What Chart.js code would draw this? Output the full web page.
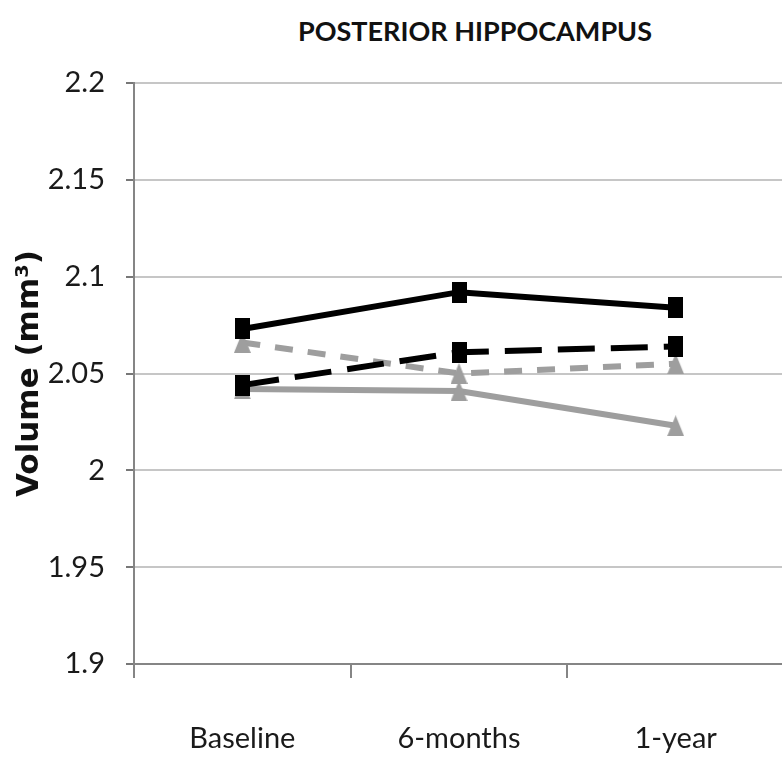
<!DOCTYPE html>
<html>
<head>
<meta charset="utf-8">
<script src="https://cdn.jsdelivr.net/npm/chart.js@4.4.1/dist/chart.umd.min.js"></script>
<style>
  html, body { margin: 0; padding: 0; background: #ffffff; overflow: hidden; width: 782px; height: 759px; }
  #wrap { position: relative; width: 782px; height: 759px; overflow: hidden; }
  #title { position: absolute; left: 0; width: 950px; top: 14px; text-align: center;
           font-family: Lato, 'Liberation Sans', sans-serif; font-weight: bold;
           font-size: 27px; color: #111; white-space: nowrap; }
  canvas { position: absolute; left: 0; top: 0; }
</style>
</head>
<body>
<div id="wrap">
  <div id="title">POSTERIOR HIPPOCAMPUS</div>
  <canvas id="c" width="800" height="759"></canvas>
</div>
<script>
// ---- data ----
const categories = ['Baseline', '6-months', '1-year'];
const blackSolid  = [2.073, 2.092, 2.084];
const blackDashed = [2.044, 2.061, 2.064];
const greyDashed  = [2.066, 2.050, 2.055];
const greySolid   = [2.042, 2.041, 2.023];
const yTicks = [1.9, 1.95, 2, 2.05, 2.1, 2.15, 2.2];
const yTitle = 'Volume (mm³)';

const BLACK = '#000000';
const GREY = '#9e9e9e';
const TICK_FONT = "Lato, 'Liberation Sans', sans-serif";

function squareMarker(color) {
  const c = document.createElement('canvas');
  c.width = 15; c.height = 21;
  const g = c.getContext('2d');
  g.fillStyle = color;
  g.fillRect(0, 0, 15, 21);
  return c;
}
function triangleMarker(color) {
  const c = document.createElement('canvas');
  c.width = 17; c.height = 21;
  const g = c.getContext('2d');
  g.fillStyle = color;
  g.beginPath();
  g.moveTo(8.5, 0); g.lineTo(17, 21); g.lineTo(0, 21); g.closePath();
  g.fill();
  return c;
}
const sq = squareMarker(BLACK);
const tri = triangleMarker(GREY);

new Chart(document.getElementById('c'), {
  type: 'line',
  data: {
    labels: categories,
    datasets: [
      { data: blackSolid, borderColor: BLACK, backgroundColor: BLACK, borderWidth: 6,
        pointStyle: sq, pointRadius: 10 },
      { data: blackDashed, borderColor: BLACK, backgroundColor: BLACK, borderWidth: 6,
        borderDash: [37, 16], pointStyle: sq, pointRadius: 10 },
      { data: greyDashed, borderColor: GREY, backgroundColor: GREY, borderWidth: 6,
        borderDash: [18, 15], pointStyle: tri, pointRadius: 10 },
      { data: greySolid, borderColor: GREY, backgroundColor: GREY, borderWidth: 6,
        pointStyle: tri, pointRadius: 10 }
    ]
  },
  options: {
    responsive: false,
    animation: false,
    devicePixelRatio: 1,
    events: [],
    layout: { padding: { top: 83, right: 9, left: 0, bottom: 0 } },
    plugins: { legend: { display: false }, title: { display: false }, tooltip: { enabled: false } },
    elements: { line: { tension: 0, fill: false, borderCapStyle: 'butt' } },
    scales: {
      x: {
        type: 'category',
        offset: true,
        grid: { offset: true, drawOnChartArea: false, drawTicks: true, tickLength: 14,
                color: '#858585', tickColor: '#858585', lineWidth: 2 },
        border: { display: true, color: '#858585', width: 2 },
        ticks: { font: { family: TICK_FONT, size: 29 }, color: '#1a1a1a', padding: 43 },
        afterFit: s => { s.height = 95; }
      },
      y: {
        min: 1.9, max: 2.2,
        afterBuildTicks: s => { s.ticks = yTicks.map(v => ({ value: v })); },
        grid: { color: '#c6c6c6', lineWidth: 2, tickColor: '#777777', tickLength: 8, drawTicks: true },
        border: { display: true, color: '#858585', width: 2 },
        ticks: {
          font: { family: TICK_FONT, size: 29 }, color: '#1a1a1a', padding: 21,
          callback: (v, i) => String(yTicks[i])
        },
        title: { display: true, text: yTitle, color: '#111',
                 font: { family: "'DejaVu Sans', sans-serif", weight: 'bold', size: 31 },
                 padding: { top: 11, bottom: 0 } },
        afterFit: s => { s.width = 134; }
      }
    }
  }
});
</script>
</body>
</html>
